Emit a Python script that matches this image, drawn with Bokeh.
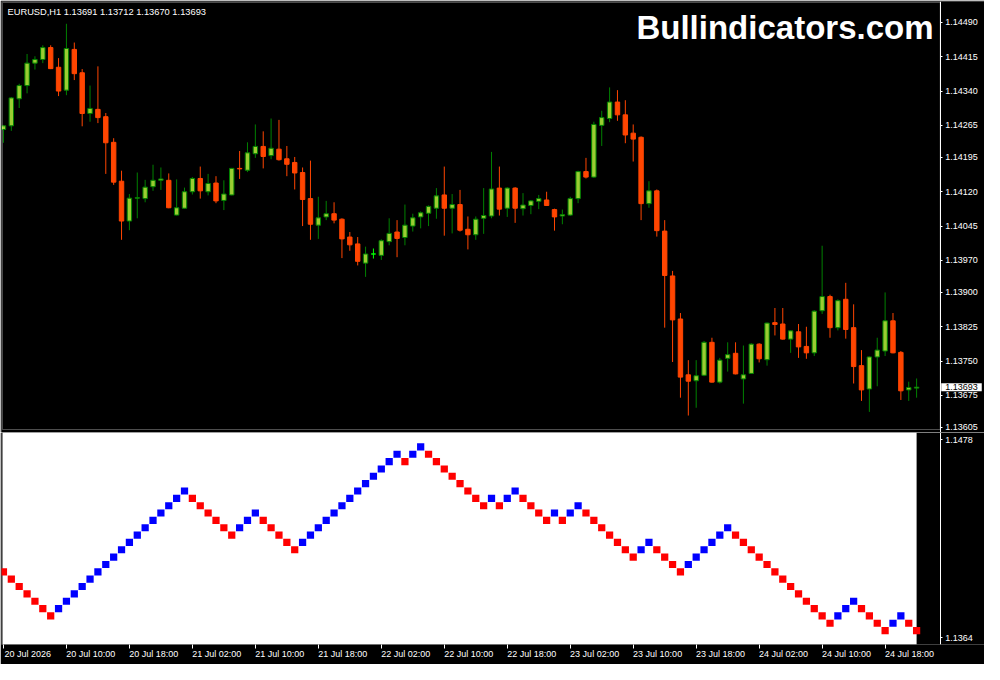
from bokeh.plotting import figure
from bokeh.models import (Range1d, LinearAxis, FixedTicker, PrintfTickFormatter,
                          Label, BoxAnnotation, ColumnDataSource)
from bokeh.layouts import column
from bokeh.embed import file_html
from bokeh.resources import INLINE

# ---------------- data ----------------
symbol_title = "EURUSD,H1  1.13691 1.13712 1.13670 1.13693"
watermark = "Bullindicators.com"

opens = [1.14256, 1.14264, 1.14323, 1.14352, 1.14401, 1.14409, 1.14435, 1.14392, 1.14342, 1.14431,
         1.14380, 1.14291, 1.14300, 1.14284, 1.14228, 1.14143, 1.14056, 1.14106, 1.14105, 1.14131,
         1.14145, 1.14145, 1.14069, 1.14084, 1.14120, 1.14149, 1.14120, 1.14139, 1.14101, 1.14113,
         1.14171, 1.14167, 1.14203, 1.14219, 1.14199, 1.14213, 1.14192, 1.14184, 1.14162, 1.14105,
         1.14047, 1.14065, 1.14072, 1.14060, 1.14021, 1.14006, 1.13964, 1.13984, 1.13981, 1.14011,
         1.14032, 1.14020, 1.14045, 1.14065, 1.14073, 1.14084, 1.14113, 1.14084, 1.14092, 1.14038,
         1.14026, 1.14062, 1.14067, 1.14128, 1.14084, 1.14128, 1.14083, 1.14090, 1.14099, 1.14102,
         1.14081, 1.14067, 1.14069, 1.14105, 1.14164, 1.14152, 1.14265, 1.14280, 1.14316, 1.14288,
         1.14248, 1.14239, 1.14094, 1.14122, 1.14034, 1.13936, 1.13842, 1.13720, 1.13707, 1.13719,
         1.13791, 1.13704, 1.13756, 1.13767, 1.13711, 1.13723, 1.13787, 1.13753, 1.13834, 1.13831,
         1.13798, 1.13814, 1.13782, 1.13768, 1.13860, 1.13891, 1.13823, 1.13885, 1.13823, 1.13740,
         1.13689, 1.13759, 1.13772, 1.13838, 1.13769, 1.13687, 1.13691]
highs = [1.14266, 1.14327, 1.14356, 1.14421, 1.14416, 1.14440, 1.14440, 1.14412, 1.14487, 1.14446,
         1.14388, 1.14352, 1.14394, 1.14292, 1.14237, 1.14166, 1.14115, 1.14162, 1.14146, 1.14179,
         1.14173, 1.14160, 1.14147, 1.14129, 1.14152, 1.14175, 1.14159, 1.14154, 1.14145, 1.14172,
         1.14209, 1.14228, 1.14267, 1.14252, 1.14280, 1.14277, 1.14220, 1.14196, 1.14173, 1.14188,
         1.14109, 1.14100, 1.14097, 1.14062, 1.14032, 1.14021, 1.14000, 1.13996, 1.14016, 1.14062,
         1.14058, 1.14092, 1.14072, 1.14077, 1.14090, 1.14128, 1.14175, 1.14115, 1.14124, 1.14066,
         1.14066, 1.14128, 1.14207, 1.14175, 1.14130, 1.14130, 1.14117, 1.14102, 1.14113, 1.14120,
         1.14083, 1.14081, 1.14109, 1.14166, 1.14194, 1.14273, 1.14297, 1.14348, 1.14342, 1.14320,
         1.14267, 1.14241, 1.14143, 1.14125, 1.14058, 1.13947, 1.13855, 1.13752, 1.13752, 1.13794,
         1.13801, 1.13757, 1.13791, 1.13791, 1.13784, 1.13789, 1.13789, 1.13834, 1.13866, 1.13866,
         1.13817, 1.13831, 1.13825, 1.13861, 1.14002, 1.13895, 1.13885, 1.13921, 1.13874, 1.13774,
         1.13760, 1.13801, 1.13900, 1.13855, 1.13772, 1.13705, 1.13712]
lows = [1.14227, 1.14253, 1.14303, 1.14335, 1.14387, 1.14401, 1.14388, 1.14329, 1.14331, 1.14364,
        1.14263, 1.14273, 1.14270, 1.14159, 1.14135, 1.14015, 1.14036, 1.14062, 1.14097, 1.14122,
        1.14124, 1.14084, 1.14068, 1.14083, 1.14114, 1.14105, 1.14112, 1.14095, 1.14080, 1.14112,
        1.14148, 1.14163, 1.14194, 1.14171, 1.14191, 1.14188, 1.14154, 1.14125, 1.14045, 1.14015,
        1.14017, 1.14058, 1.14051, 1.13975, 1.13991, 1.13959, 1.13934, 1.13974, 1.13971, 1.14003,
        1.13977, 1.14003, 1.14033, 1.14040, 1.14045, 1.14061, 1.14024, 1.14029, 1.14033, 1.13994,
        1.14015, 1.14028, 1.14062, 1.14068, 1.14065, 1.14052, 1.14068, 1.14071, 1.14082, 1.14089,
        1.14035, 1.14049, 1.14067, 1.14095, 1.14149, 1.14150, 1.14220, 1.14272, 1.14275, 1.14226,
        1.14186, 1.14058, 1.14085, 1.14022, 1.13823, 1.13748, 1.13670, 1.13631, 1.13648, 1.13717,
        1.13703, 1.13701, 1.13727, 1.13721, 1.13657, 1.13722, 1.13747, 1.13740, 1.13806, 1.13797,
        1.13768, 1.13757, 1.13755, 1.13761, 1.13853, 1.13801, 1.13817, 1.13799, 1.13701, 1.13663,
        1.13639, 1.13695, 1.13761, 1.13767, 1.13665, 1.13663, 1.13670]
closes = [1.14264, 1.14325, 1.14352, 1.14401, 1.14409, 1.14435, 1.14389, 1.14340, 1.14433, 1.14378,
          1.14291, 1.14302, 1.14282, 1.14227, 1.14141, 1.14056, 1.14106, 1.14107, 1.14130, 1.14145,
          1.14148, 1.14085, 1.14085, 1.14120, 1.14149, 1.14122, 1.14138, 1.14100, 1.14115, 1.14171,
          1.14170, 1.14205, 1.14219, 1.14197, 1.14215, 1.14190, 1.14180, 1.14161, 1.14103, 1.14049,
          1.14063, 1.14072, 1.14058, 1.14017, 1.14004, 1.13968, 1.13984, 1.13984, 1.14013, 1.14029,
          1.14018, 1.14047, 1.14063, 1.14074, 1.14088, 1.14111, 1.14084, 1.14092, 1.14036, 1.14026,
          1.14060, 1.14068, 1.14126, 1.14082, 1.14128, 1.14084, 1.14091, 1.14100, 1.14105, 1.14090,
          1.14065, 1.14070, 1.14105, 1.14164, 1.14152, 1.14267, 1.14282, 1.14316, 1.14288, 1.14244,
          1.14235, 1.14094, 1.14122, 1.14035, 1.13937, 1.13840, 1.13715, 1.13706, 1.13718, 1.13791,
          1.13704, 1.13752, 1.13764, 1.13722, 1.13720, 1.13787, 1.13755, 1.13833, 1.13830, 1.13798,
          1.13816, 1.13781, 1.13768, 1.13859, 1.13891, 1.13823, 1.13882, 1.13819, 1.13738, 1.13687,
          1.13759, 1.13774, 1.13838, 1.13768, 1.13685, 1.13692, 1.13693]

price_ticks = [1.14490, 1.14415, 1.14340, 1.14265, 1.14195, 1.14120, 1.14045,
               1.13970, 1.13900, 1.13825, 1.13750, 1.13675, 1.13605]

time_tick_bars = [0, 8, 16, 24, 32, 40, 48, 56, 64, 72, 80, 88, 96, 104, 112]
time_tick_labels = ["20 Jul 2026", "20 Jul 10:00", "20 Jul 18:00", "21 Jul 02:00",
                    "21 Jul 10:00", "21 Jul 18:00", "22 Jul 02:00", "22 Jul 10:00",
                    "22 Jul 18:00", "23 Jul 02:00", "23 Jul 10:00", "23 Jul 18:00",
                    "24 Jul 02:00", "24 Jul 10:00", "24 Jul 18:00"]

renko_prev_level = 7
renko_levels = [6, 5, 4, 3, 2, 1, 0,
                1, 2, 3, 4, 5, 6, 7, 8, 9, 10, 11, 12, 13, 14, 15, 16, 17,
                16, 15, 14, 13, 12, 11,
                12, 13, 14,
                13, 12, 11, 10, 9,
                10, 11, 12, 13, 14, 15, 16, 17, 18, 19, 20, 21, 22,
                21, 22, 23,
                22, 21, 20, 19, 18, 17, 16, 15,
                16, 15, 16, 17,
                16, 15, 14, 13,
                14, 13, 14, 15,
                14, 13, 12, 11, 10, 9, 8,
                9, 10,
                9, 8, 7, 6,
                7, 8, 9, 10, 11, 12,
                11, 10, 9, 8, 7, 6, 5, 4, 3, 2, 1, 0, -1,
                0, 1, 2,
                1, 0, -1, -2,
                -1, 0,
                -1, -2]
renko_scale_levels = [24, -3]
renko_scale_labels = ["1.1478", "1.1364"]

# ---------------- layout constants ----------------
W, H = 984, 664
TOP_H = 432
BOT_H = H - TOP_H
FONT = "Liberation Sans"
X0, X_END = -0.248, 124.625        # whole canvas width (frame spans it)
PANEL_L, PANEL_R = -0.125, 119     # visible chart box; price scale sits at PANEL_R
P_TOP, P_BOT = 1.145335, 1.136005  # visible price box
P_PAD = 2.185e-5                   # price per pixel
LABEL_SHIFT = 3.1

BULL_FILL = "#9acd32"
BULL_LINE = "#008000"
BEAR = "#ff4500"
DOJI = "#00ff00"

n = len(opens)
idx = list(range(n))
x_range = Range1d(X0, X_END)

fills, lines = [], []
for o, c in zip(opens, closes):
    if c > o:
        fills.append(BULL_FILL); lines.append(BULL_LINE)
    elif c < o:
        fills.append(BEAR); lines.append(BEAR)
    else:
        fills.append(DOJI); lines.append(DOJI)

src = ColumnDataSource(dict(
    x=idx, h=highs, l=lows,
    top=[max(o, c) for o, c in zip(opens, closes)],
    bottom=[min(o, c) for o, c in zip(opens, closes)],
    fill=fills, line=lines))

# ---------------- top: price panel ----------------
p1 = figure(width=W, height=TOP_H, x_range=x_range,
            y_range=Range1d(P_BOT - 3 * P_PAD, P_TOP + 1 * P_PAD),
            x_axis_type=None, y_axis_type=None,
            toolbar_location=None, output_backend="svg",
            background_fill_color="black", border_fill_color="black",
            outline_line_color=None,
            min_border_left=1, min_border_right=0,
            min_border_top=1, min_border_bottom=0)

p1.add_layout(BoxAnnotation(left=PANEL_L, right=PANEL_R, top=P_TOP, bottom=P_BOT,
                            fill_alpha=0, line_color="white", line_width=1))

p1.segment(x0="x", y0="h", x1="x", y1="l", line_color="line", line_width=1, source=src)
p1.vbar(x="x", width=0.56, top="top", bottom="bottom",
        fill_color="fill", line_color="line", line_width=1, source=src)

yax = LinearAxis(ticker=FixedTicker(ticks=price_ticks),
                 formatter=PrintfTickFormatter(format="%.5f"),
                 fixed_location=PANEL_R,
                 axis_line_color="white", major_tick_line_color="white",
                 major_tick_out=2, major_tick_in=0, minor_tick_line_color=None,
                 major_label_text_color="white", major_label_text_font=FONT,
                 major_label_text_font_size="9px", major_label_standoff=3)
p1.add_layout(yax, "right")

frame_h1 = TOP_H - 1
p1.add_layout(Label(x=6, y=frame_h1 - 10, x_units="screen", y_units="screen",
                    text=symbol_title, text_color="white", text_font=FONT,
                    text_font_size="9.3px", text_baseline="middle", text_align="left"))
p1.add_layout(Label(x=932, y=frame_h1 - 26, x_units="screen", y_units="screen",
                    text=watermark, text_color="white", text_font=FONT,
                    text_font_style="bold", text_font_size="33px",
                    text_baseline="alphabetic", text_align="right"))
p1.add_layout(Label(x=PANEL_R, y=closes[-1], x_offset=1,
                    text=f"{closes[-1]:.5f}", text_color="black", text_font=FONT,
                    text_font_size="9px", text_baseline="middle", text_align="left",
                    background_fill_color="white",
                    padding=dict(left=4, right=4, top=1, bottom=1)))

# ---------------- bottom: renko panel ----------------
p2 = figure(width=W, height=BOT_H, x_range=x_range,
            y_range=Range1d(-3.89, 24.96),
            x_axis_type=None, y_axis_type=None,
            toolbar_location=None, output_backend="svg",
            background_fill_color="black", border_fill_color="black",
            outline_line_color=None,
            min_border_left=1, min_border_right=0,
            min_border_top=0, min_border_bottom=20)
p2.extra_x_ranges = {"lbl": Range1d(X0 - LABEL_SHIFT, X_END - LABEL_SHIFT)}

prev = [renko_prev_level] + renko_levels[:-1]
renko_colors = ["#0000ff" if lv > pv else "#ff0000" for lv, pv in zip(renko_levels, prev)]

# white indicator area ends at the last renko column; black beyond it
p2.add_layout(BoxAnnotation(left=PANEL_L, right=len(renko_levels) - 1, fill_color="white",
                            fill_alpha=1.0, line_color=None, level="underlay"))
p2.rect(x=list(range(len(renko_levels))), y=renko_levels, width=0.92, height=0.97,
        fill_color=renko_colors, line_color=None)

ry = LinearAxis(ticker=FixedTicker(ticks=renko_scale_levels),
                major_label_overrides=dict(zip(renko_scale_levels, renko_scale_labels)),
                fixed_location=PANEL_R,
                axis_line_color="white", major_tick_line_color="white",
                major_tick_out=2, major_tick_in=0, minor_tick_line_color=None,
                major_label_text_color="white", major_label_text_font=FONT,
                major_label_text_font_size="9px", major_label_standoff=3)
p2.add_layout(ry, "right")

# tick marks only
xa = LinearAxis(ticker=FixedTicker(ticks=time_tick_bars),
                axis_line_color=None, major_tick_line_color="white",
                major_tick_out=4, major_tick_in=0, minor_tick_line_color=None,
                major_label_text_color=None, major_label_text_font_size="0px",
                major_label_standoff=0)
p2.add_layout(xa, "below")

# time labels, starting at each tick
xb = LinearAxis(x_range_name="lbl", ticker=FixedTicker(ticks=time_tick_bars),
                major_label_overrides=dict(zip(time_tick_bars, time_tick_labels)),
                axis_line_color=None, major_tick_line_color=None,
                major_tick_out=0, major_tick_in=0, minor_tick_line_color=None,
                major_label_text_color="white", major_label_text_font=FONT,
                major_label_text_font_size="9px", major_label_standoff=0)
p2.add_layout(xb, "below")

layout = column(p1, p2, spacing=0)
open("out.html", "w").write(file_html(layout, INLINE))
